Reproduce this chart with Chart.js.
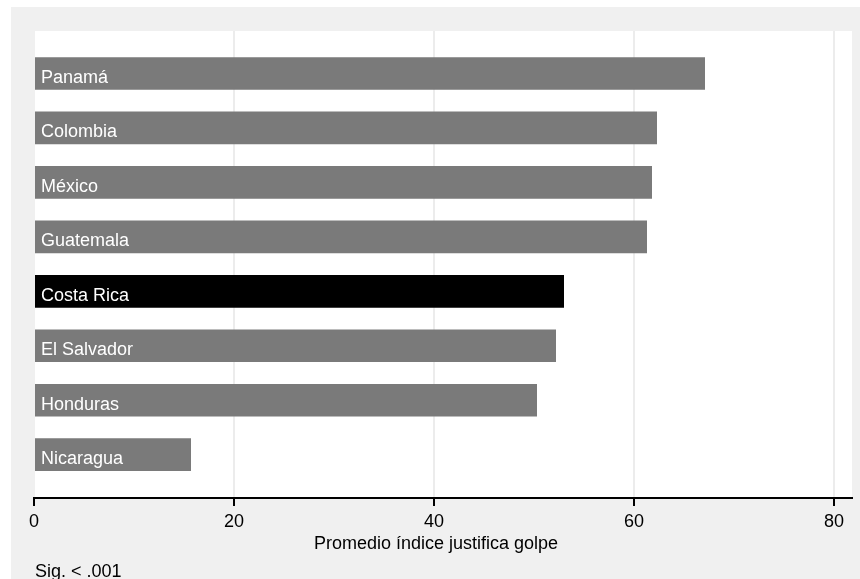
<!DOCTYPE html>
<html lang="es">
<head>
    <meta charset="UTF-8">
    <title>Promedio índice justifica golpe</title>
    <script src="https://cdn.jsdelivr.net/npm/chart.js"></script>
    <style>
        html, body { margin: 0; padding: 0; background: #fff; }
        #grafico { display: block; }
    </style>
</head>
<body>
    <canvas id="grafico" width="860" height="579"></canvas>

    <script>
        // datos
        const paises = ['Panamá', 'Colombia', 'México', 'Guatemala', 'Costa Rica', 'El Salvador', 'Honduras', 'Nicaragua'];
        const promedios = [67.1, 62.3, 61.8, 61.3, 53.0, 52.2, 50.3, 15.7];
        const resaltado = 'Costa Rica';
        const marcasX = [0, 20, 40, 60, 80];
        const tituloX = 'Promedio índice justifica golpe';
        const nota = 'Sig. < .001';

        const fuente = '"Liberation Sans", Arial, Helvetica, sans-serif';

        // fondo gris exterior y región blanca del gráfico
        const fondo = {
            id: 'fondo',
            beforeDraw(chart) {
                const { ctx, chartArea } = chart;
                ctx.save();
                ctx.fillStyle = '#ffffff';
                ctx.fillRect(0, 0, chart.width, chart.height);
                ctx.fillStyle = '#f0f0f0';
                ctx.fillRect(11, 7, chart.width - 11, chart.height - 7);
                ctx.fillStyle = '#ffffff';
                ctx.fillRect(chartArea.left + 1, chartArea.top, chartArea.right - chartArea.left - 1, chartArea.bottom - chartArea.top);
                ctx.restore();
            }
        };

        // nombres de países dentro de las barras
        const etiquetas = {
            id: 'etiquetas',
            afterDatasetsDraw(chart) {
                const { ctx, chartArea } = chart;
                const meta = chart.getDatasetMeta(0);
                ctx.save();
                ctx.font = '18px ' + fuente;
                ctx.fillStyle = '#ffffff';
                ctx.textAlign = 'left';
                ctx.textBaseline = 'alphabetic';
                meta.data.forEach((barra, i) => {
                    ctx.fillText(paises[i], chartArea.left + 7, barra.y + 9.5);
                });
                ctx.restore();
            }
        };

        // título del eje y nota al pie
        const textos = {
            id: 'textos',
            afterDraw(chart) {
                const { ctx } = chart;
                ctx.save();
                ctx.font = '18px ' + fuente;
                ctx.fillStyle = '#000000';
                ctx.textBaseline = 'alphabetic';
                ctx.textAlign = 'center';
                ctx.fillText(tituloX, 436, 549);
                ctx.textAlign = 'left';
                ctx.fillText(nota, 35, 577);
                ctx.restore();
            }
        };

        const ctx = document.getElementById('grafico').getContext('2d');

        new Chart(ctx, {
            type: 'bar',
            data: {
                datasets: [{
                    data: promedios.map((v, i) => ({ x: v, y: i })),
                    backgroundColor: paises.map(p => p === resaltado ? '#000000' : '#7a7a7a'),
                    borderWidth: 0,
                    barPercentage: 0.6,
                    categoryPercentage: 1
                }]
            },
            options: {
                indexAxis: 'y',
                responsive: false,
                animation: false,
                layout: {
                    padding: { left: 34, right: 8, top: 31, bottom: 0 }
                },
                plugins: {
                    legend: { display: false },
                    tooltip: { enabled: false }
                },
                scales: {
                    x: {
                        type: 'linear',
                        position: 'bottom',
                        min: 0,
                        max: 81.8,
                        afterFit(scale) { scale.height = 81; },
                        afterBuildTicks(scale) {
                            scale.ticks = marcasX.map(v => ({ value: v }));
                        },
                        ticks: {
                            color: '#000000',
                            font: { family: fuente, size: 18 },
                            padding: 5,
                            maxRotation: 0
                        },
                        grid: {
                            color: c => c.tick && c.tick.value === 0 ? 'rgba(0,0,0,0)' : '#ececec',
                            lineWidth: 2,
                            tickColor: '#000000',
                            tickWidth: 2,
                            tickLength: 8,
                            drawTicks: true
                        },
                        border: { display: true, color: '#000000', width: 2 }
                    },
                    y: {
                        type: 'linear',
                        reverse: true,
                        offset: false,
                        min: -0.78,
                        max: 7.795,
                        afterBuildTicks(scale) {
                            scale.ticks = paises.map((p, i) => ({ value: i }));
                        },
                        display: false
                    }
                }
            },
            plugins: [fondo, etiquetas, textos]
        });
    </script>
</body>
</html>
